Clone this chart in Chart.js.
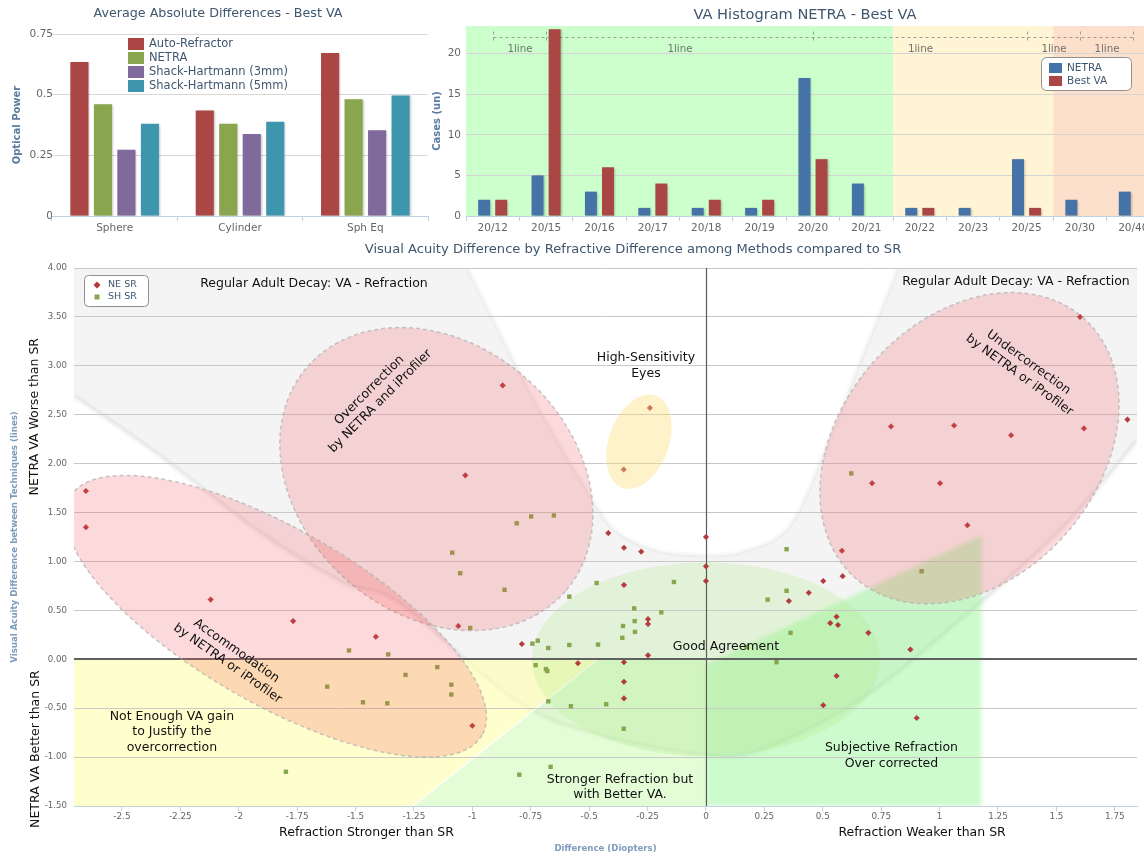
<!DOCTYPE html>
<html>
<head>
<meta charset="utf-8">
<title>NETRA study charts</title>
<script src="https://cdn.jsdelivr.net/npm/chart.js@4.4.1/dist/chart.umd.min.js"></script>
<style>
html, body { margin: 0; padding: 0; overflow: hidden; background: #fff; }
body { width: 1144px; height: 856px; position: relative; }
.panel { position: absolute; }
</style>
</head>
<body>
<div class="panel" style="left:0;top:0;width:430px;height:240px"><canvas id="avgChart"></canvas></div>
<div class="panel" style="left:430px;top:0;width:745px;height:240px"><canvas id="histChart"></canvas></div>
<div class="panel" style="left:0;top:240px;width:1144px;height:616px"><canvas id="scatterChart"></canvas></div>
<script>
Chart.defaults.font.family = '"DejaVu Sans", Verdana, sans-serif';
Chart.defaults.color = '#666';
Chart.defaults.animation = false;

// Average absolute differences (optical power)
const measures = ['Sphere', 'Cylinder', 'Sph Eq'];
const autoRefractor = [0.635, 0.435, 0.672];
const netraDiff = [0.46, 0.38, 0.481];
const shack3mm = [0.273, 0.338, 0.353];
const shack5mm = [0.38, 0.388, 0.497];
const powerTicks = [0, 0.25, 0.5, 0.75];

// VA histogram
const vaBins = ['20/12', '20/15', '20/16', '20/17', '20/18', '20/19', '20/20', '20/21', '20/22', '20/23', '20/25', '20/30', '20/40'];
const netraCases = [2, 5, 3, 1, 1, 1, 17, 4, 1, 1, 7, 2, 3];
const bestVaCases = [2, 23, 6, 4, 2, 2, 7, 0, 1, 0, 1, 0, 0];
const caseTicks = [0, 5, 10, 15, 20];
const lineMarks = ['20/12', '20/15', '20/20', '20/25', '20/30', '20/40'];

// VA difference (lines) vs refraction difference (diopters)
const neSR = [
  [-2.654, 1.72], [-2.654, 1.35], [-2.12, 0.61], [-1.767, 0.39], [-1.413, 0.23],
  [-0.87, 2.8], [-1.03, 1.88], [-1.06, 0.34], [-1.0, -0.68], [-0.418, 1.29],
  [-0.351, 1.14], [-0.277, 1.1], [-0.24, 2.57], [-0.352, 1.94], [0, 1.25],
  [0, 0.95], [0, 0.8], [-0.351, 0.76], [-0.248, 0.41], [-0.248, 0.36],
  [-0.788, 0.156], [-0.548, -0.04], [-0.351, -0.03], [-0.248, 0.04], [-0.351, -0.23],
  [-0.351, -0.4], [1.601, 3.5], [1.804, 2.45], [1.618, 2.36], [0.792, 2.38],
  [1.062, 2.39], [1.306, 2.29], [0.711, 1.8], [1.002, 1.8], [1.119, 1.37],
  [0.582, 1.11], [0.502, 0.8], [0.585, 0.85], [0.44, 0.68], [0.355, 0.595],
  [0.559, 0.435], [0.532, 0.37], [0.565, 0.35], [0.695, 0.27], [0.875, 0.1],
  [0.559, -0.17], [0.502, -0.47], [0.902, -0.6]
];
const shSR = [
  [-1.086, 1.09], [-1.052, 0.88], [-0.862, 0.71], [-0.468, 0.78], [-0.585, 0.64],
  [-0.137, 0.79], [0.264, 0.61], [-0.307, 0.52], [-0.191, 0.48], [-0.355, 0.34],
  [-0.305, 0.39], [-0.304, 0.28], [-0.358, 0.22], [-1.009, 0.32], [-0.743, 0.16],
  [-0.72, 0.19], [-0.675, 0.115], [-0.585, 0.146], [-0.462, 0.15], [0.174, 0.126],
  [0.302, -0.03], [-1.36, 0.05], [-1.15, -0.08], [-1.286, -0.16], [-1.09, -0.26],
  [-1.09, -0.36], [-1.364, -0.45], [-0.729, -0.06], [-0.685, -0.1], [-0.679, -0.12],
  [-0.675, -0.43], [-0.578, -0.48], [-0.427, -0.46], [-0.352, -0.71], [-0.799, -1.18],
  [-0.665, -1.1], [-1.528, 0.09], [-1.621, -0.28], [-1.468, -0.44], [-1.798, -1.15],
  [-0.81, 1.39], [-0.748, 1.46], [-0.651, 1.47], [0.622, 1.9], [0.345, 1.125],
  [0.923, 0.9], [0.345, 0.7], [0.362, 0.27]
];
const diopterTicks = [-2.5, -2.25, -2, -1.75, -1.5, -1.25, -1, -0.75, -0.5, -0.25, 0, 0.25, 0.5, 0.75, 1, 1.25, 1.5, 1.75];
const lineTicks = [-1.5, -1, -0.5, 0, 0.5, 1, 1.5, 2, 2.5, 3, 3.5, 4];

const TITLE = '#3E576F';
const AXIS_TITLE = '#5B7BA0';
const RED = '#B23A3E';
const GREEN = '#89A54E';
const font = (size, weight) => (weight ? weight + ' ' : '') + size + 'px "DejaVu Sans", Verdana, sans-serif';

function text(ctx, lines, x, y, opt = {}) {
  ctx.save();
  ctx.translate(x, y);
  if (opt.rot) ctx.rotate(opt.rot * Math.PI / 180);
  ctx.font = opt.font || font(12.5);
  ctx.fillStyle = opt.color || '#111';
  ctx.textAlign = opt.align || 'center';
  ctx.textBaseline = 'middle';
  const lh = opt.lh || 15.5;
  [].concat(lines).forEach((s, i, arr) => ctx.fillText(s, 0, (i - (arr.length - 1) / 2) * lh));
  ctx.restore();
}

function roundBox(ctx, x, y, w, h, r) {
  ctx.beginPath();
  ctx.roundRect(x + 0.5, y + 0.5, w, h, r);
  ctx.fillStyle = '#fff';
  ctx.fill();
  ctx.strokeStyle = '#909090';
  ctx.lineWidth = 1;
  ctx.stroke();
}

const titleText = {
  id: 'titleText',
  afterDraw(chart, args, o) {
    text(chart.ctx, o.text, o.x, o.y, {font: font(o.size), color: TITLE});
  }
};

const barShadow = {
  id: 'barShadow',
  beforeDatasetsDraw(chart) {
    const c = chart.ctx;
    c.save();
    c.shadowColor = 'rgba(0,0,0,0.22)';
    c.shadowBlur = 2;
    c.shadowOffsetX = 1;
    c.shadowOffsetY = 1;
  },
  afterDatasetsDraw(chart) {
    chart.ctx.restore();
  }
};

function fixedTicks(values) {
  return scale => { scale.ticks = values.map(v => ({value: v})); };
}

// ---------- chart 1: average absolute differences ----------
const avgLegend = {
  id: 'avgLegend',
  afterDraw(chart) {
    const ctx = chart.ctx;
    chart.data.datasets.forEach((ds, i) => {
      ctx.fillStyle = ds.backgroundColor;
      ctx.fillRect(128, 38 + i * 14, 16, 12);
      text(ctx, ds.label, 149, 44 + i * 14, {font: font(11.5), color: TITLE, align: 'left'});
    });
  }
};

new Chart(document.getElementById('avgChart'), {
  type: 'bar',
  data: {
    labels: measures,
    datasets: [
      {label: 'Auto-Refractor', data: autoRefractor, backgroundColor: '#AA4643'},
      {label: 'NETRA', data: netraDiff, backgroundColor: '#89A54E'},
      {label: 'Shack-Hartmann (3mm)', data: shack3mm, backgroundColor: '#80699B'},
      {label: 'Shack-Hartmann (5mm)', data: shack5mm, backgroundColor: '#3D96AE'}
    ]
  },
  options: {
    responsive: true,
    maintainAspectRatio: false,
    layout: {padding: {top: 34, right: 2, left: 0, bottom: 0}},
    datasets: {bar: {categoryPercentage: 0.75, barPercentage: 0.77}},
    plugins: {
      legend: {display: false},
      tooltip: {enabled: false},
      titleText: {text: 'Average Absolute Differences - Best VA', x: 218, y: 14, size: 12.7}
    },
    scales: {
      x: {
        afterFit: s => { s.height = 24; },
        grid: {drawOnChartArea: false, tickLength: 5, color: '#C0D0E0'},
        border: {color: '#C0D0E0'},
        ticks: {font: {size: 10.5}, color: '#666', padding: 1}
      },
      y: {
        min: 0, max: 0.75,
        afterBuildTicks: fixedTicks(powerTicks),
        afterFit: s => { s.width = 52; },
        grid: {color: '#D8D8D8', drawTicks: false},
        border: {display: false},
        ticks: {font: {size: 10.5}, color: '#666', padding: -1, callback: v => String(v)},
        title: {display: true, text: 'Optical Power', color: AXIS_TITLE, font: {size: 10, weight: 'bold'}, padding: {top: 11}}
      }
    }
  },
  plugins: [barShadow, titleText, avgLegend]
});

// ---------- chart 2: VA histogram ----------
const vaZones = [
  {until: '20/21', color: '#CCFFCC'},
  {until: '20/25', color: '#FFF5D5'},
  {until: null, color: '#FDE0CC'}
];

const histDecor = {
  id: 'histDecor',
  beforeDraw(chart) {
    const {ctx, chartArea: a, scales: {x}} = chart;
    let from = a.left;
    vaZones.forEach(z => {
      const to = z.until ? x.getPixelForValue(vaBins.indexOf(z.until) + 0.5) : a.right;
      ctx.fillStyle = z.color;
      ctx.fillRect(from, a.top, to - from, a.height);
      from = to;
    });
  },
  beforeDatasetsDraw(chart) {
    const {ctx, scales: {x, y}} = chart;
    const yy = Math.round(y.getPixelForValue(22)) + 0.5;
    const xs = lineMarks.map(m => Math.round(x.getPixelForValue(vaBins.indexOf(m))) + 0.5);
    ctx.save();
    ctx.strokeStyle = '#9a9a9a';
    ctx.lineWidth = 1;
    ctx.setLineDash([3, 3]);
    ctx.beginPath();
    ctx.moveTo(xs[0], yy);
    ctx.lineTo(xs[xs.length - 1], yy);
    xs.forEach(px => { ctx.moveTo(px, yy - 6); ctx.lineTo(px, yy + 6); });
    ctx.stroke();
    ctx.restore();
    for (let i = 0; i < xs.length - 1; i++) {
      text(ctx, '1line', (xs[i] + xs[i + 1]) / 2, yy + 11.5, {font: font(10.3), color: '#707070'});
    }
  },
  afterDraw(chart) {
    const ctx = chart.ctx;
    roundBox(ctx, 611, 57, 90, 33, 5);
    chart.data.datasets.forEach((ds, i) => {
      ctx.fillStyle = ds.backgroundColor;
      ctx.fillRect(619, 63 + i * 13, 13, 10);
      text(ctx, ds.label, 637, 68.5 + i * 12.5, {font: font(10.5), color: TITLE, align: 'left'});
    });
  }
};

new Chart(document.getElementById('histChart'), {
  type: 'bar',
  data: {
    labels: vaBins,
    datasets: [
      {label: 'NETRA', data: netraCases, backgroundColor: '#4572A7'},
      {label: 'Best VA', data: bestVaCases, backgroundColor: '#AA4643'}
    ]
  },
  options: {
    responsive: true,
    maintainAspectRatio: false,
    layout: {padding: {top: 26, right: 15, left: 0, bottom: 0}},
    datasets: {bar: {categoryPercentage: 0.64, barPercentage: 0.7}},
    plugins: {
      legend: {display: false},
      tooltip: {enabled: false},
      titleText: {text: 'VA Histogram NETRA - Best VA', x: 375, y: 15.5, size: 14.6}
    },
    scales: {
      x: {
        afterFit: s => { s.height = 24; },
        grid: {drawOnChartArea: false, tickLength: 5, color: '#C0D0E0'},
        border: {color: '#C0D0E0'},
        ticks: {font: {size: 10.5}, color: '#666', padding: 1, autoSkip: false, maxRotation: 0}
      },
      y: {
        min: 0, max: 23.4,
        afterBuildTicks: fixedTicks(caseTicks),
        afterFit: s => { s.width = 36; },
        grid: {color: '#D4D4D4', drawTicks: false},
        border: {display: false},
        ticks: {font: {size: 10.5}, color: '#666', padding: 5},
        title: {display: true, text: 'Cases (un)', color: AXIS_TITLE, font: {size: 10, weight: 'bold'}, padding: {top: 1}}
      }
    }
  },
  plugins: [histDecor, barShadow, titleText]
});

// ---------- chart 3: scatter with interpretation zones ----------
const xRange = [-2.705, 1.845];
const decayBand = {
  outer: [[-2.705, 2.694], [-2.337, 2.082], [-1.909, 1.296], [-1.554, 0.786], [-1.31, 0.571],
          [-0.818, -0.418], [-0.454, -0.776], [0, -0.98], [0.231, -0.929], [0.659, -0.418],
          [1.087, 0.398], [1.515, 1.316], [1.845, 2.235]],
  inner: [[0.822, 4], [0.775, 3.714], [0.659, 3.031], [0.518, 2.184], [0.36, 1.367],
          [0.176, 1.112], [0.004, 1.061], [-0.21, 1.112], [-0.398, 1.337], [-0.539, 1.847],
          [-0.655, 2.316], [-0.783, 2.867], [-0.925, 3.541], [-1.023, 4]]
};
const yellowZone = [[-2.705, 0], [-0.462, 0], [-1.254, -1.5], [-2.705, -1.5]];
const strongerZone = [[-1.254, -1.5], [0, -1.5], [0, 0], [-0.462, 0]];
const subjectiveZone = [[0, -1.5], [1.18, -1.5], [1.18, 1.265], [0, -0.05]];
const agreementZone = {cx: 0, cy: 0, a: 174, b: 97, rot: 0};
const pinkZones = [
  {cx: -1.154, cy: 1.842, a: 171, b: 135, rot: 41},
  {cx: -1.841, cy: 0.44, a: 238, b: 87, rot: 30},
  {cx: 1.128, cy: 2.158, a: 173, b: 129, rot: -49}
];
const eyesZone = {cx: -0.287, cy: 2.224, a: 49, b: 30, rot: -70};
const notes = [
  {lines: ['Regular Adult Decay: VA - Refraction'], at: [-1.678, 3.837]},
  {lines: ['Regular Adult Decay: VA - Refraction'], at: [1.327, 3.857]},
  {lines: ['High-Sensitivity', 'Eyes'], at: [-0.257, 3.0]},
  {lines: ['Overcorrection', 'by NETRA and iProfiler'], at: [-1.417, 2.694], rot: -45},
  {lines: ['Undercorrection', 'by NETRA or iProfiler'], at: [1.361, 2.969], rot: 36},
  {lines: ['Accommodation', 'by NETRA or iProfiler'], at: [-2.029, 0.02], rot: 35},
  {lines: ['Not Enough VA gain', 'to Justify the', 'overcorrection'], at: [-2.286, -0.745]},
  {lines: ['Good Agreement'], at: [0.0856, 0.133]},
  {lines: ['Stronger Refraction but', 'with Better VA.'], at: [-0.368, -1.306]},
  {lines: ['Subjective Refraction', 'Over corrected'], at: [0.794, -0.985]}
];

function curveThrough(ctx, pts) {
  for (let i = 0; i < pts.length - 1; i++) {
    const p0 = pts[i - 1] || pts[i], p1 = pts[i], p2 = pts[i + 1], p3 = pts[i + 2] || p2;
    ctx.bezierCurveTo(p1[0] + (p2[0] - p0[0]) / 6, p1[1] + (p2[1] - p0[1]) / 6,
                      p2[0] - (p3[0] - p1[0]) / 6, p2[1] - (p3[1] - p1[1]) / 6, p2[0], p2[1]);
  }
}

function polygon(ctx, pts, fill) {
  ctx.beginPath();
  pts.forEach((p, i) => i ? ctx.lineTo(p[0], p[1]) : ctx.moveTo(p[0], p[1]));
  ctx.closePath();
  ctx.fillStyle = fill;
  ctx.fill();
}

function ellipse(ctx, P, e) {
  const [cx, cy] = P([e.cx, e.cy]);
  ctx.beginPath();
  ctx.ellipse(cx, cy, e.a, e.b, e.rot * Math.PI / 180, 0, Math.PI * 2);
}

const scatterDecor = {
  id: 'scatterDecor',
  beforeDraw(chart) {
    const {ctx, chartArea: a, scales: {x, y}} = chart;
    const P = p => [x.getPixelForValue(p[0]), y.getPixelForValue(p[1])];
    ctx.save();
    ctx.beginPath();
    ctx.rect(a.left, a.top, a.width, a.height);
    ctx.clip();

    // regular adult decay band
    const outer = decayBand.outer.map(P), inner = decayBand.inner.map(P);
    ctx.beginPath();
    ctx.moveTo(a.left, a.top);
    ctx.lineTo(outer[0][0], outer[0][1]);
    curveThrough(ctx, outer);
    ctx.lineTo(a.right, a.top);
    ctx.lineTo(inner[0][0], inner[0][1]);
    curveThrough(ctx, inner);
    ctx.closePath();
    ctx.fillStyle = 'rgba(0,0,0,0.045)';
    ctx.fill();
    ctx.save();
    ctx.filter = 'blur(1.5px)';
    ctx.lineWidth = 4;
    ctx.strokeStyle = 'rgba(0,0,0,0.07)';
    ctx.beginPath();
    ctx.moveTo(outer[0][0], outer[0][1]);
    curveThrough(ctx, outer);
    ctx.stroke();
    ctx.lineWidth = 3;
    ctx.strokeStyle = 'rgba(0,0,0,0.05)';
    ctx.beginPath();
    ctx.moveTo(inner[0][0], inner[0][1]);
    curveThrough(ctx, inner);
    ctx.stroke();
    ctx.restore();

    polygon(ctx, yellowZone.map(P), 'rgba(255,255,175,0.62)');
    polygon(ctx, strongerZone.map(P), 'rgba(190,250,160,0.42)');
    ctx.save();
    ctx.filter = 'blur(2px)';
    polygon(ctx, subjectiveZone.map(P), 'rgba(130,245,130,0.4)');
    ctx.restore();
    // white seam along the diagonal
    const d1 = P(yellowZone[1]), d2 = P(yellowZone[2]);
    ctx.beginPath();
    ctx.moveTo(d1[0], d1[1]);
    ctx.lineTo(d2[0], d2[1]);
    ctx.strokeStyle = 'rgba(255,255,255,0.9)';
    ctx.lineWidth = 1.5;
    ctx.stroke();
    ellipse(ctx, P, agreementZone);
    ctx.fillStyle = 'rgba(170,235,130,0.25)';
    ctx.fill();
    ctx.restore();
  },
  beforeDatasetsDraw(chart) {
    const {ctx, chartArea: a, scales: {x, y}} = chart;
    const x0 = Math.round(x.getPixelForValue(0)) + 0.5;
    const y0 = Math.round(y.getPixelForValue(0));
    ctx.save();
    ctx.strokeStyle = '#5a5a5a';
    ctx.lineWidth = 1.2;
    ctx.beginPath();
    ctx.moveTo(x0, a.top);
    ctx.lineTo(x0, a.bottom);
    ctx.stroke();
    ctx.lineWidth = 2;
    ctx.strokeStyle = '#606060';
    ctx.beginPath();
    ctx.moveTo(a.left, y0);
    ctx.lineTo(a.right, y0);
    ctx.stroke();
    ctx.restore();
  },
  afterDatasetsDraw(chart) {
    const {ctx, chartArea: a, scales: {x, y}} = chart;
    const P = p => [x.getPixelForValue(p[0]), y.getPixelForValue(p[1])];
    ctx.save();
    ctx.beginPath();
    ctx.rect(a.left, a.top, a.width, a.height);
    ctx.clip();
    pinkZones.forEach(e => {
      ellipse(ctx, P, e);
      ctx.fillStyle = 'rgba(240,80,85,0.22)';
      ctx.fill();
      ctx.setLineDash([4, 3]);
      ctx.strokeStyle = 'rgba(175,175,175,0.7)';
      ctx.lineWidth = 1.5;
      ctx.stroke();
    });
    ctx.setLineDash([]);
    ellipse(ctx, P, eyesZone);
    ctx.fillStyle = 'rgba(250,222,120,0.4)';
    ctx.fill();
    ctx.restore();

    notes.forEach(n => {
      const [px, py] = P(n.at);
      text(ctx, n.lines, px, py, {rot: n.rot || 0});
    });
  },
  afterDraw(chart) {
    const {ctx, chartArea: a, scales: {x, y}} = chart;
    // side captions
    text(ctx, 'NETRA VA Worse than SR', 35, y.getPixelForValue(2.48), {rot: -90});
    text(ctx, 'NETRA VA Better than SR', 36, y.getPixelForValue(-0.918), {rot: -90});
    text(ctx, 'Refraction Stronger than SR', x.getPixelForValue(-1.453), a.bottom + 27);
    text(ctx, 'Refraction Weaker than SR', x.getPixelForValue(0.925), a.bottom + 27);
    // legend
    roundBox(ctx, 84, 35, 64, 31, 4);
    chart.data.datasets.forEach((ds, i) => {
      const cy = 45 + i * 12;
      ctx.fillStyle = ds.backgroundColor;
      ctx.beginPath();
      if (ds.pointStyle === 'rectRot') {
        ctx.moveTo(97, cy - 3.5); ctx.lineTo(100.5, cy); ctx.lineTo(97, cy + 3.5); ctx.lineTo(93.5, cy);
      } else {
        ctx.rect(94.5, cy - 2.5, 5, 5);
      }
      ctx.fill();
      text(ctx, ds.label, 108, cy, {font: font(9.5), color: TITLE, align: 'left'});
    });
  }
};

new Chart(document.getElementById('scatterChart'), {
  type: 'scatter',
  data: {
    datasets: [
      {label: 'NE SR', data: neSR.map(([x, y]) => ({x, y})), pointStyle: 'rectRot', pointRadius: 2.8,
       backgroundColor: RED, borderColor: RED, borderWidth: 0.5},
      {label: 'SH SR', data: shSR.map(([x, y]) => ({x, y})), pointStyle: 'rect', pointRadius: 3.1,
       backgroundColor: GREEN, borderColor: GREEN, borderWidth: 0}
    ]
  },
  options: {
    responsive: true,
    maintainAspectRatio: false,
    layout: {padding: {top: 28, right: 7, left: 0, bottom: 0}},
    plugins: {
      legend: {display: false},
      tooltip: {enabled: false},
      titleText: {text: 'Visual Acuity Difference by Refractive Difference among Methods compared to SR', x: 633, y: 10, size: 13.1}
    },
    scales: {
      x: {
        type: 'linear',
        min: xRange[0], max: xRange[1],
        afterBuildTicks: fixedTicks(diopterTicks),
        afterFit: s => { s.height = 50; },
        grid: {drawOnChartArea: false, tickLength: 5, color: '#C0D0E0'},
        border: {color: '#C0D0E0'},
        ticks: {font: {size: 8.8}, color: '#666', padding: 0, autoSkip: false, maxRotation: 0, callback: v => String(v)},
        title: {display: true, text: 'Difference (Diopters)', color: '#7F9BBD', font: {size: 8.6, weight: 'bold'}, padding: {top: 0, bottom: 2}}
      },
      y: {
        min: -1.5, max: 4,
        afterBuildTicks: fixedTicks(lineTicks),
        afterFit: s => { s.width = 74; },
        grid: {color: '#C8C8C8', drawTicks: false},
        border: {display: false},
        ticks: {font: {size: 8.6}, color: '#666', padding: 7, callback: v => v.toFixed(2)},
        title: {display: true, text: 'Visual Acuity Difference between Techniques (lines)', color: '#7F9BBD', font: {size: 8.6, weight: 'bold'}, padding: {top: 10}}
      }
    }
  },
  plugins: [scatterDecor, titleText]
});
</script>
</body>
</html>
